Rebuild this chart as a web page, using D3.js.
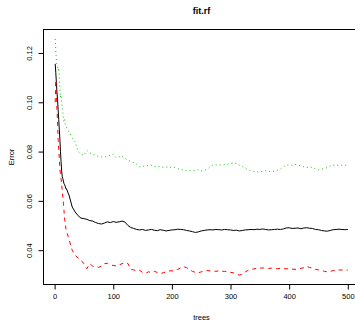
<!DOCTYPE html>
<html>
<head>
<meta charset="utf-8">
<script src="https://d3js.org/d3.v7.min.js"></script>
<style>
  body { margin: 0; background: #fff; }
  svg { display: block; font-family: "Liberation Sans", Arial, sans-serif; }
</style>
</head>
<body>
<svg id="chart" width="355" height="321"></svg>
<script>
// trees: every tree up to 20, then every 5th
var trees = d3.range(1, 21).concat(d3.range(25, 501, 5));

var oob = [0.1156, 0.112, 0.108, 0.104, 0.101, 0.097, 0.093, 0.089, 0.085, 0.080, 0.076, 0.072, 0.070, 0.069, 0.068, 0.067, 0.0665, 0.066, 0.065, 0.065,
  0.062, 0.0575, 0.0555, 0.054, 0.053, 0.0528, 0.0525, 0.052, 0.0518, 0.0512, 0.0508, 0.0506, 0.051, 0.0515, 0.0512, 0.0516,
  0.0513, 0.0515, 0.0518, 0.0514, 0.0500, 0.0492, 0.0488, 0.0484, 0.0482, 0.0484, 0.048, 0.0482, 0.0484, 0.0481, 0.0479, 0.0483, 0.0481, 0.0478, 0.048, 0.0482,
  0.0483, 0.0485, 0.0484, 0.0483, 0.048, 0.0478, 0.0475, 0.0472, 0.0474, 0.0478, 0.048, 0.0482, 0.0483, 0.0482, 0.0484, 0.0483, 0.0482, 0.0484, 0.0483, 0.0482,
  0.048, 0.0481, 0.0478, 0.048, 0.0482, 0.0483, 0.0484, 0.0483, 0.0485, 0.0484, 0.0486, 0.0484, 0.0482, 0.0483, 0.0484, 0.0485, 0.0484, 0.0486, 0.049, 0.0491,
  0.0488, 0.0489, 0.049, 0.0487, 0.049, 0.0491, 0.0489, 0.0488, 0.0484, 0.0483, 0.048, 0.0478, 0.0477, 0.048, 0.0483, 0.0484, 0.0485, 0.0484, 0.0483, 0.0484];

var class1 = [0.100, 0.109, 0.104, 0.097, 0.092, 0.085, 0.081, 0.077, 0.073, 0.071, 0.069, 0.067, 0.064, 0.0615, 0.059, 0.056, 0.0525, 0.051, 0.049, 0.048,
  0.044, 0.040, 0.038, 0.0368, 0.036, 0.0345, 0.0325, 0.0345, 0.0335, 0.0333, 0.033, 0.0336, 0.0345, 0.0347, 0.034, 0.0338,
  0.0336, 0.034, 0.0345, 0.035, 0.0346, 0.0322, 0.032, 0.0316, 0.0318, 0.031, 0.0306, 0.0312, 0.031, 0.0314, 0.031, 0.0305, 0.0308, 0.0312, 0.0316, 0.0316,
  0.0318, 0.0322, 0.0328, 0.0333, 0.0329, 0.0322, 0.0314, 0.031, 0.0308, 0.0312, 0.0316, 0.0317, 0.0316, 0.0316, 0.0314, 0.0316, 0.0314, 0.0314, 0.0312, 0.031,
  0.0308, 0.0304, 0.0299, 0.0302, 0.0312, 0.0318, 0.0322, 0.0324, 0.0326, 0.0327, 0.0328, 0.0327, 0.0326, 0.0327, 0.0326, 0.0325, 0.0326, 0.0324, 0.0325, 0.0324,
  0.0323, 0.0322, 0.0324, 0.0326, 0.0329, 0.0334, 0.033, 0.0327, 0.0322, 0.032, 0.0318, 0.0314, 0.0312, 0.0314, 0.0317, 0.0318, 0.032, 0.0319, 0.032, 0.0319];

var class2 = [0.1257, 0.121, 0.117, 0.115, 0.1145, 0.113, 0.114, 0.110, 0.106, 0.102, 0.103, 0.100, 0.098, 0.096, 0.093, 0.092, 0.093, 0.091, 0.0905, 0.090,
  0.0878, 0.0855, 0.084, 0.080, 0.079, 0.0785, 0.0805, 0.0795, 0.079, 0.0785, 0.078, 0.0778, 0.0778, 0.078, 0.0785, 0.079,
  0.0775, 0.0778, 0.0782, 0.0772, 0.0765, 0.076, 0.0755, 0.0748, 0.0738, 0.074, 0.0744, 0.0742, 0.0745, 0.0738, 0.074, 0.0738, 0.0736, 0.0738, 0.0735, 0.0738,
  0.0735, 0.073, 0.0728, 0.0724, 0.0722, 0.0724, 0.0722, 0.0724, 0.0726, 0.0722, 0.0724, 0.0728, 0.0738, 0.0745, 0.0746, 0.0746, 0.0745, 0.0747, 0.0748, 0.0752,
  0.0755, 0.0752, 0.0745, 0.074, 0.0732, 0.0725, 0.0722, 0.072, 0.0718, 0.0718, 0.072, 0.0722, 0.072, 0.0718, 0.0722, 0.0724, 0.0728, 0.0738, 0.0745, 0.0746,
  0.0744, 0.0748, 0.0745, 0.0742, 0.0738, 0.0735, 0.0738, 0.0735, 0.073, 0.0726, 0.0728, 0.0732, 0.0735, 0.0742, 0.0745, 0.0744, 0.0746, 0.0744, 0.0745, 0.0744];

var xTicks = [0, 100, 200, 300, 400, 500];
var yTicks = [0.04, 0.06, 0.08, 0.10, 0.12];

// R style: black solid, red dashed, green dotted
var series = [
  { values: oob, color: "#000000", dash: null },
  { values: class1, color: "#FF0000", dash: "4,4" },
  { values: class2, color: "#00CD00", dash: "1,3" }
];

var svg = d3.select("#chart");
// plot region edges (note: "top" is taken by window.top)
var pLeft = 43.5, pRight = 359.5, pTop = 29.5, pBottom = 284.5;

// 4% padding like R
var xExt = d3.extent(trees);
var xPad = (xExt[1] - xExt[0]) * 0.04;
var x = d3.scaleLinear().domain([xExt[0] - xPad, xExt[1] + xPad]).range([pLeft, pRight]);

var yExt = d3.extent(oob.concat(class1, class2));
var yPad = (yExt[1] - yExt[0]) * 0.04;
var y = d3.scaleLinear().domain([yExt[0] - yPad, yExt[1] + yPad]).range([pBottom, pTop]);

svg.append("clipPath").attr("id", "plotclip")
  .append("rect").attr("x", pLeft).attr("y", pTop)
  .attr("width", pRight - pLeft).attr("height", pBottom - pTop);

var plot = svg.append("g").attr("clip-path", "url(#plotclip)");

series.forEach(function(s){
  var line = d3.line()
    .x(function(d, i){ return x(trees[i]); })
    .y(function(d){ return y(d); });
  plot.append("path")
    .datum(s.values)
    .attr("d", line)
    .attr("fill", "none")
    .attr("stroke", s.color)
    .attr("stroke-width", 1)
    .attr("stroke-dasharray", s.dash);
});

// box
svg.append("rect")
  .attr("x", pLeft).attr("y", pTop)
  .attr("width", pRight - pLeft).attr("height", pBottom - pTop)
  .attr("fill", "none").attr("stroke", "#000").attr("stroke-width", 1);

// x axis
var xAxis = d3.axisBottom(x).tickValues(xTicks).tickSize(5).tickFormat(d3.format("d"));
var gx = svg.append("g").attr("transform", "translate(0," + pBottom + ")").call(xAxis);
gx.select(".domain").attr("d", "M" + x(0) + ",0H" + x(500));
gx.selectAll("text").attr("y", 9).attr("font-size", "7.5px").attr("fill", "#000")
  .attr("font-family", "Liberation Sans, Arial, sans-serif");

// y axis, rotated labels
var yAxis = d3.axisLeft(y).tickValues(yTicks).tickSize(5).tickFormat(d3.format(".2f"));
var gy = svg.append("g").attr("transform", "translate(" + pLeft + ",0)").call(yAxis);
gy.select(".domain").attr("d", "M0," + y(0.04) + "V" + y(0.12));
gy.selectAll("text")
  .attr("x", null).attr("dy", null)
  .attr("transform", "translate(-14,0) rotate(-90)")
  .attr("text-anchor", "middle")
  .attr("dominant-baseline", "central")
  .attr("font-size", "7.5px").attr("fill", "#000")
  .attr("font-family", "Liberation Sans, Arial, sans-serif");
svg.selectAll(".domain, .tick line").attr("stroke", "#000");

// titles
svg.append("text").attr("x", (pLeft + pRight) / 2).attr("y", 14)
  .attr("text-anchor", "middle").attr("font-size", "9px").attr("font-weight", "bold")
  .text("fit.rf");
svg.append("text").attr("x", (pLeft + pRight) / 2).attr("y", 320)
  .attr("text-anchor", "middle").attr("font-size", "7.5px")
  .text("trees");
svg.append("text")
  .attr("transform", "translate(14," + ((pTop + pBottom) / 2) + ") rotate(-90)")
  .attr("text-anchor", "middle").attr("font-size", "7.5px")
  .text("Error");
</script>
</body>
</html>
